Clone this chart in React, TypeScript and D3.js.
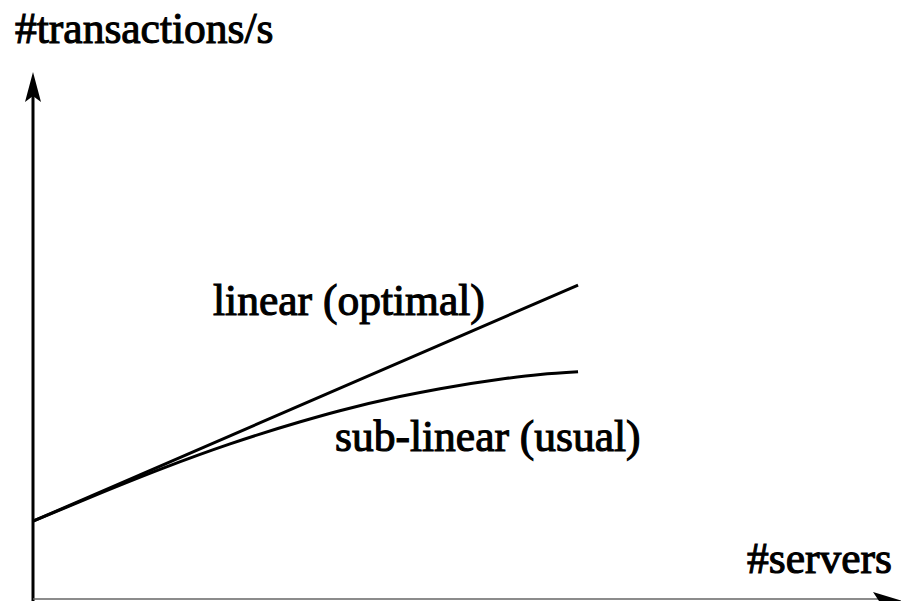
import React from "react";
import * as d3 from "d3";

// Data (abstract units: x = #servers, y = #transactions/s), domain 0..100
const linearX = [0, 63.6];
const linearY = [14.6, 59.5];

const subX = [0, 7.8, 15.2, 23.0, 31.2, 35.8, 42.8, 47.5, 54.5, 59.2, 63.6];
const subY = [14.6, 19.9, 24.7, 29.3, 33.5, 35.6, 38.3, 39.8, 41.6, 42.5, 43.0];

const yTitle = "#transactions/s";
const xTitle = "#servers";
const labelLinear = "linear (optimal)";
const labelSub = "sub-linear (usual)";

const W = 901;
const H = 601;

export default function App() {
  const x = d3.scaleLinear().domain([0, 100]).range([33, 890]);
  const y = d3.scaleLinear().domain([0, 100]).range([598, 72]);

  const line = d3
    .line<[number, number]>()
    .x((d) => x(d[0]))
    .y((d) => y(d[1]))
    .curve(d3.curveMonotoneX);

  const linPts: [number, number][] = linearX.map((v, i) => [v, linearY[i]]);
  const subPts: [number, number][] = subX.map((v, i) => [v, subY[i]]);

  const ax = x(0);
  const ay = y(100);

  const T = (props: { x: number; y: number; s: string }) => (
    <text
      x={props.x}
      y={props.y}
      fontFamily="Liberation Serif"
      fontSize={43.5}
      fill="#000"
      stroke="#000"
      strokeWidth={1.1}
    >
      {props.s}
    </text>
  );

  return (
    <svg
      width={W}
      height={H}
      style={{ position: "absolute", left: 0, top: 0, background: "#fff" }}
    >
      <rect x={0} y={0} width={W} height={H} fill="#fff" />
      {/* y axis */}
      <line x1={ax} y1={ay + 22} x2={ax} y2={H} stroke="#000" strokeWidth={3} />
      <path
        d={`M${ax},${ay} L${ax + 8},${ay + 30} L${ax},${ay + 24} L${ax - 8},${ay + 30} Z`}
        fill="#000"
      />
      {/* x axis */}
      <line x1={ax} y1={599} x2={888} y2={599} stroke="#666" strokeWidth={1.5} />
      <path d={`M903,601 L873,592 L879,601 L873,610 Z`} fill="#000" />

      {/* lines */}
      <path d={line(linPts) || ""} fill="none" stroke="#000" strokeWidth={3} />
      <path d={line(subPts) || ""} fill="none" stroke="#000" strokeWidth={3} />

      {/* labels */}
      <T x={15} y={43} s={yTitle} />
      <T x={747} y={573} s={xTitle} />
      <T x={213} y={315} s={labelLinear} />
      <T x={335} y={451} s={labelSub} />
    </svg>
  );
}
